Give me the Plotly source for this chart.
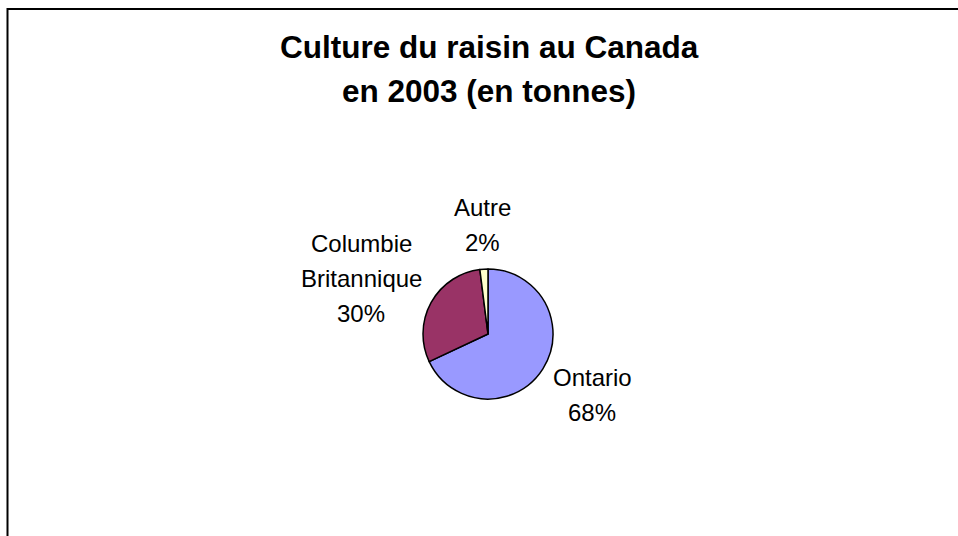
import plotly.graph_objects as go

# ---- data ----
categories = ["Ontario", "Columbie Britannique", "Autre"]
label_lines = [["Ontario"], ["Columbie", "Britannique"], ["Autre"]]
values = [68, 30, 2]
colors = ["#9999FF", "#993366", "#FFFFCC"]
title_lines = ["Culture du raisin au Canada", "en 2003 (en tonnes)"]

W, H = 958, 536
FONT = "Liberation Sans, Arial, sans-serif"

def px(x, y):
    return x / W, 1 - y / H

# pie geometry (pixels)
cx, cy, r = 488, 334, 65
x0, y0 = px(cx - r, cy + r)
x1, y1 = px(cx + r, cy - r)

fig = go.Figure(go.Pie(
    labels=categories, values=values, sort=False, direction="clockwise",
    rotation=0, textinfo="none", hoverinfo="label+percent",
    marker=dict(colors=colors, line=dict(color="#000000", width=1.5)),
    domain=dict(x=[x0, x1], y=[y0, y1]), showlegend=False,
))

annotations = []
def add_text(text, x, y, size, bold=False):
    ax, ay = px(x, y)
    annotations.append(dict(
        text=f"<b>{text}</b>" if bold else text, x=ax, y=ay,
        xref="paper", yref="paper", xanchor="center", yanchor="middle",
        showarrow=False, font=dict(family=FONT, size=size, color="#000000"),
    ))

# title, two lines
title_pos = [(489, 47), (489, 91)]
for t, (x, y) in zip(title_lines, title_pos):
    add_text(t, x, y, 31.5, bold=True)

# data labels: text lines + percentage
total = sum(values)
label_pos = [(592, 377), (361, 243), (483, 207)]
line_gap = 35
for lines, v, (x, y) in zip(label_lines, values, label_pos):
    pct = f"{round(v / total * 100)}%"
    for i, t in enumerate(lines + [pct]):
        add_text(t, x, y + i * line_gap, 24)

# chart area border (left and top visible)
bx0, by1 = px(7.5, 9)
shapes = [dict(type="rect", xref="paper", yref="paper",
               x0=bx0, x1=1.05, y0=-0.05, y1=by1,
               line=dict(color="#000000", width=2), fillcolor="rgba(0,0,0,0)")]

fig.update_layout(
    width=W, height=H, margin=dict(l=0, r=0, t=0, b=0),
    paper_bgcolor="#FFFFFF", plot_bgcolor="#FFFFFF",
    annotations=annotations, shapes=shapes,
)
fig.write_html("out.html")
